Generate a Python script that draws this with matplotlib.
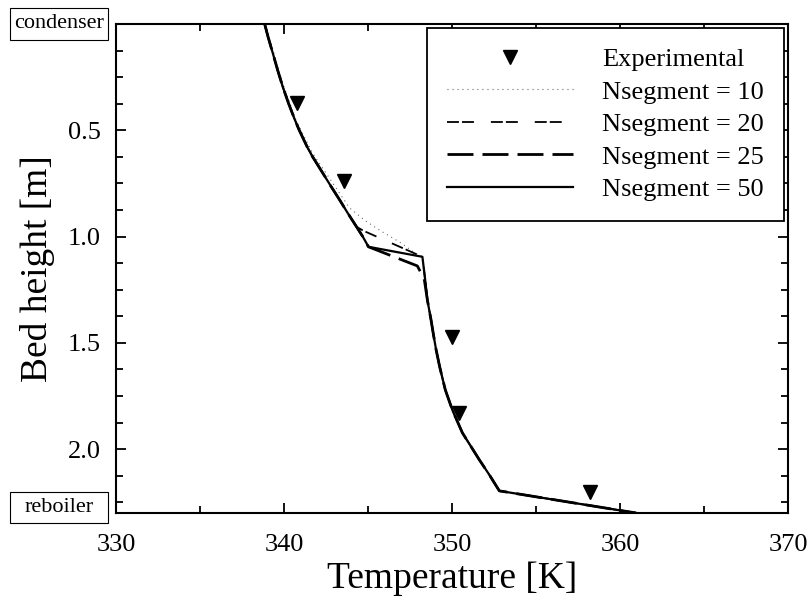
import matplotlib.pyplot as plt
from matplotlib.patches import Rectangle

plt.rcParams['font.family'] = ['Liberation Serif', 'DejaVu Serif']
plt.rcParams['lines.scale_dashes'] = False

# experimental points
exp_T = [340.8, 343.6, 350.0, 350.4, 358.2]
exp_h = [0.37, 0.74, 1.47, 1.83, 2.20]

# part below the side feed, shared by all simulations
low_T = [348.24, 348.40, 348.54, 348.75, 348.88, 349.05, 349.27, 349.60, 350.02,
         350.62, 351.63, 352.22, 352.82, 360.96]
low_h = [1.095, 1.20, 1.30, 1.39, 1.453, 1.53, 1.613, 1.72, 1.815,
         1.923, 2.05, 2.12, 2.196, 2.30]

# Nsegment = 50 (solid), upper part
T50 = [338.85, 339.05, 339.33, 339.62, 339.93, 340.27, 340.65, 340.90, 341.38, 341.70,
       342.30, 342.81, 343.31, 343.80, 344.32, 344.69, 345.03]
h50 = [0.0, 0.06, 0.136, 0.216, 0.296, 0.373, 0.451, 0.498, 0.578, 0.624,
       0.70, 0.765, 0.827, 0.89, 0.954, 1.0, 1.048]

# Nsegment = 10 (dotted), upper part
T10 = [338.9, 339.1, 339.4, 339.68, 340.0, 340.35, 340.7, 341.7, 342.9, 343.9, 344.85,
       345.86, 346.87, 347.8]
h10 = [0.0, 0.06, 0.136, 0.216, 0.296, 0.373, 0.451, 0.607, 0.748, 0.865, 0.926,
       0.978, 1.025, 1.077]

# Nsegment = 20 (short dashes), upper part
T20 = [338.85, 339.05, 339.33, 339.62, 339.93, 340.27, 340.65, 340.90, 341.38, 341.70,
       342.30, 342.81, 343.31, 343.80, 344.32, 344.74]
h20 = [0.0, 0.06, 0.136, 0.216, 0.296, 0.373, 0.451, 0.498, 0.578, 0.624,
       0.70, 0.765, 0.827, 0.89, 0.954, 0.973]

# Nsegment = 25 (long dashes), upper part
T25 = [338.85, 339.05, 339.33, 339.62, 339.93, 340.27, 340.65, 340.90, 341.38, 341.70,
       342.30, 342.81, 343.31, 343.80, 344.32, 344.69, 345.03, 347.94, 348.35]
h25 = [0.0, 0.06, 0.136, 0.216, 0.296, 0.373, 0.451, 0.498, 0.578, 0.624,
       0.70, 0.765, 0.827, 0.89, 0.954, 1.0, 1.048, 1.138, 1.20]

fig = plt.figure(figsize=(8.11, 6.06), dpi=100)
ax = fig.add_axes([0.143, 0.1535, 0.8286, 0.8069])

ax.plot(exp_T, exp_h, 'kv', ms=10, linestyle='none', label='Experimental')
ax.plot(T10 + low_T, h10 + low_h, color='0.35', lw=0.8, dashes=(0.7, 2.9),
        label='Nsegment = 10')
ax.plot(T20 + low_T, h20 + low_h, color='k', lw=1.3, dashes=(8.6, 2.2, 8.6, 12.2),
        label='Nsegment = 20')
ax.plot(T25 + low_T[2:], h25 + low_h[2:], color='k', lw=2.0, dashes=(18.7, 6.5),
        label='Nsegment = 25')
ax.plot(T50 + low_T, h50 + low_h, color='k', lw=1.6, label='Nsegment = 50')

ax.set_xlim(330, 370)
ax.set_ylim(2.3, 0)
ax.set_xticks([330, 340, 350, 360, 370])
ax.set_xticks([335, 345, 355, 365], minor=True)
ax.set_yticks([0.5, 1.0, 1.5, 2.0])
ax.set_yticklabels(['0.5', '1.0', '1.5', '2.0'])
ax.set_yticks([0.125, 0.25, 0.375, 0.625, 0.75, 0.875, 1.125, 1.25, 1.375,
               1.625, 1.75, 1.875, 2.125, 2.25], minor=True)
ax.tick_params(which='both', direction='in', top=True, right=True, labelsize=19, width=1.3)
ax.tick_params(which='major', length=7.5)
ax.tick_params(which='minor', length=5)
ax.tick_params(axis='x', which='major', pad=15)
ax.tick_params(axis='y', which='major', pad=11)
for s in ax.spines.values():
    s.set_linewidth(1.5)

ax.set_xlabel('Temperature [K]', fontsize=27)
ax.set_ylabel('Bed height [m]', fontsize=27, labelpad=9)

leg = ax.legend(loc='upper right', fontsize=19, handlelength=4.8, handletextpad=1.1,
                labelspacing=0.34, borderpad=0.75, borderaxespad=0.15, fancybox=False,
                edgecolor='k', framealpha=1, numpoints=1)
leg.get_frame().set_linewidth(1.3)

# condenser / reboiler boxes
W, H = 811, 606
for label, y0, y1 in [('condenser', 8, 40), ('reboiler', 492, 523)]:
    fig.patches.append(Rectangle((10 / W, 1 - y1 / H), 98 / W, (y1 - y0) / H,
                                 transform=fig.transFigure, fill=False, lw=0.8, ec='k'))
    fig.text(59 / W, 1 - (y0 + y1) / 2 / H, label, ha='center', va='center', fontsize=16)

plt.savefig('out.png', dpi=100)
